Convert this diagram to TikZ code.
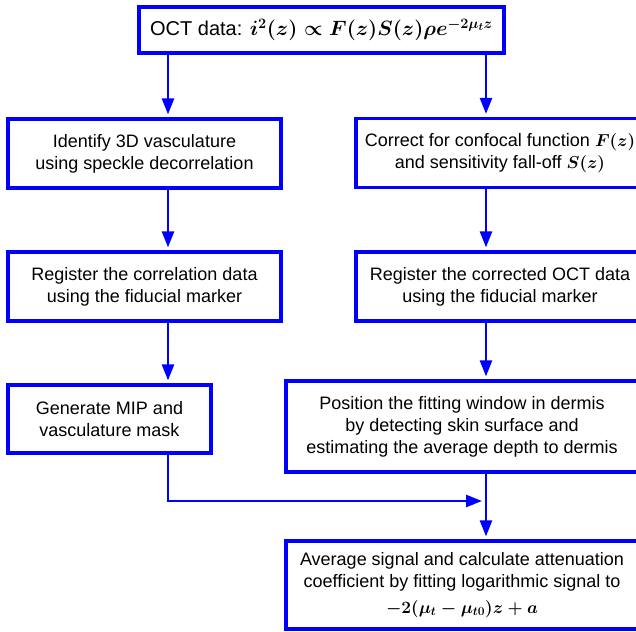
\documentclass[tikz,border=0pt]{standalone}
\usepackage[no-math]{fontspec}
\setmainfont{Liberation Sans}
\usetikzlibrary{arrows.meta}
\definecolor{boxblue}{RGB}{0,0,255}
\begin{document}
\begin{tikzpicture}[x=1pt,y=-1pt,
  flowbox/.style={draw=boxblue, line width=3.2pt, align=center, inner sep=0pt,
    font=\fontsize{18}{22}\selectfont, text=black},
  conn/.style={draw=boxblue, line width=2.5pt,
    -{Triangle[length=16pt,width=12pt]}, shorten >=3pt}]
\useasboundingbox (0,0) rectangle (636,631);
\clip (0,0) rectangle (636,631);
\node[flowbox, minimum width=365pt, minimum height=46pt, font=\fontsize{20}{24}\selectfont] (top) at (321.5,30)
  {OCT data: {\fontsize{22.5}{24}\selectfont\boldmath$i^2(z) \propto F(z)S(z)\rho e^{-2\mu_t z}$}};
\node[flowbox, minimum width=273pt, minimum height=69pt] (L1) at (144.5,153.5)
  {Identify 3D vasculature\\using speckle decorrelation};
\node[flowbox, minimum width=288pt, minimum height=69pt] (R1) at (500,153)
  {Correct for confocal function {\boldmath$F(z)$}\\and sensitivity fall-off {\boldmath$S(z)$}};
\node[flowbox, minimum width=273pt, minimum height=69pt] (L2) at (144.5,286.5)
  {Register the correlation data\\using the fiducial marker};
\node[flowbox, minimum width=288pt, minimum height=69pt] (R2) at (500,286.5)
  {Register the corrected OCT data\\using the fiducial marker};
\node[flowbox, minimum width=203pt, minimum height=68pt] (L3) at (109.5,419)
  {Generate MIP and\\vasculature mask};
\node[flowbox, minimum width=352pt, minimum height=91pt] (R3) at (462,426.5)
  {Position the fitting window in dermis\\by detecting skin surface and\\estimating the average depth to dermis};
\node[flowbox, minimum width=352pt, minimum height=88pt] (R4) at (462,585)
  {Average signal and calculate attenuation\\coefficient by fitting logarithmic signal to\\[4pt]{\boldmath$-2(\mu_t-\mu_{t0})z+a$}};
\coordinate (cl) at (168,0);
\coordinate (cr) at (486,0);
\coordinate (j) at (486,501);
\draw[conn] (top.south -| cl) -- (L1.north -| cl);
\draw[conn] (top.south -| cr) -- (R1.north -| cr);
\draw[conn] (L1.south -| cl) -- (L2.north -| cl);
\draw[conn] (R1.south -| cr) -- (R2.north -| cr);
\draw[conn] (L2.south -| cl) -- (L3.north -| cl);
\draw[conn] (R2.south -| cr) -- (R3.north -| cr);
\draw[conn, shorten >=4pt] (L3.south -| cl) |- (j);
\draw[conn] (R3.south -| cr) -- (R4.north -| cr);
\end{tikzpicture}
\end{document}
